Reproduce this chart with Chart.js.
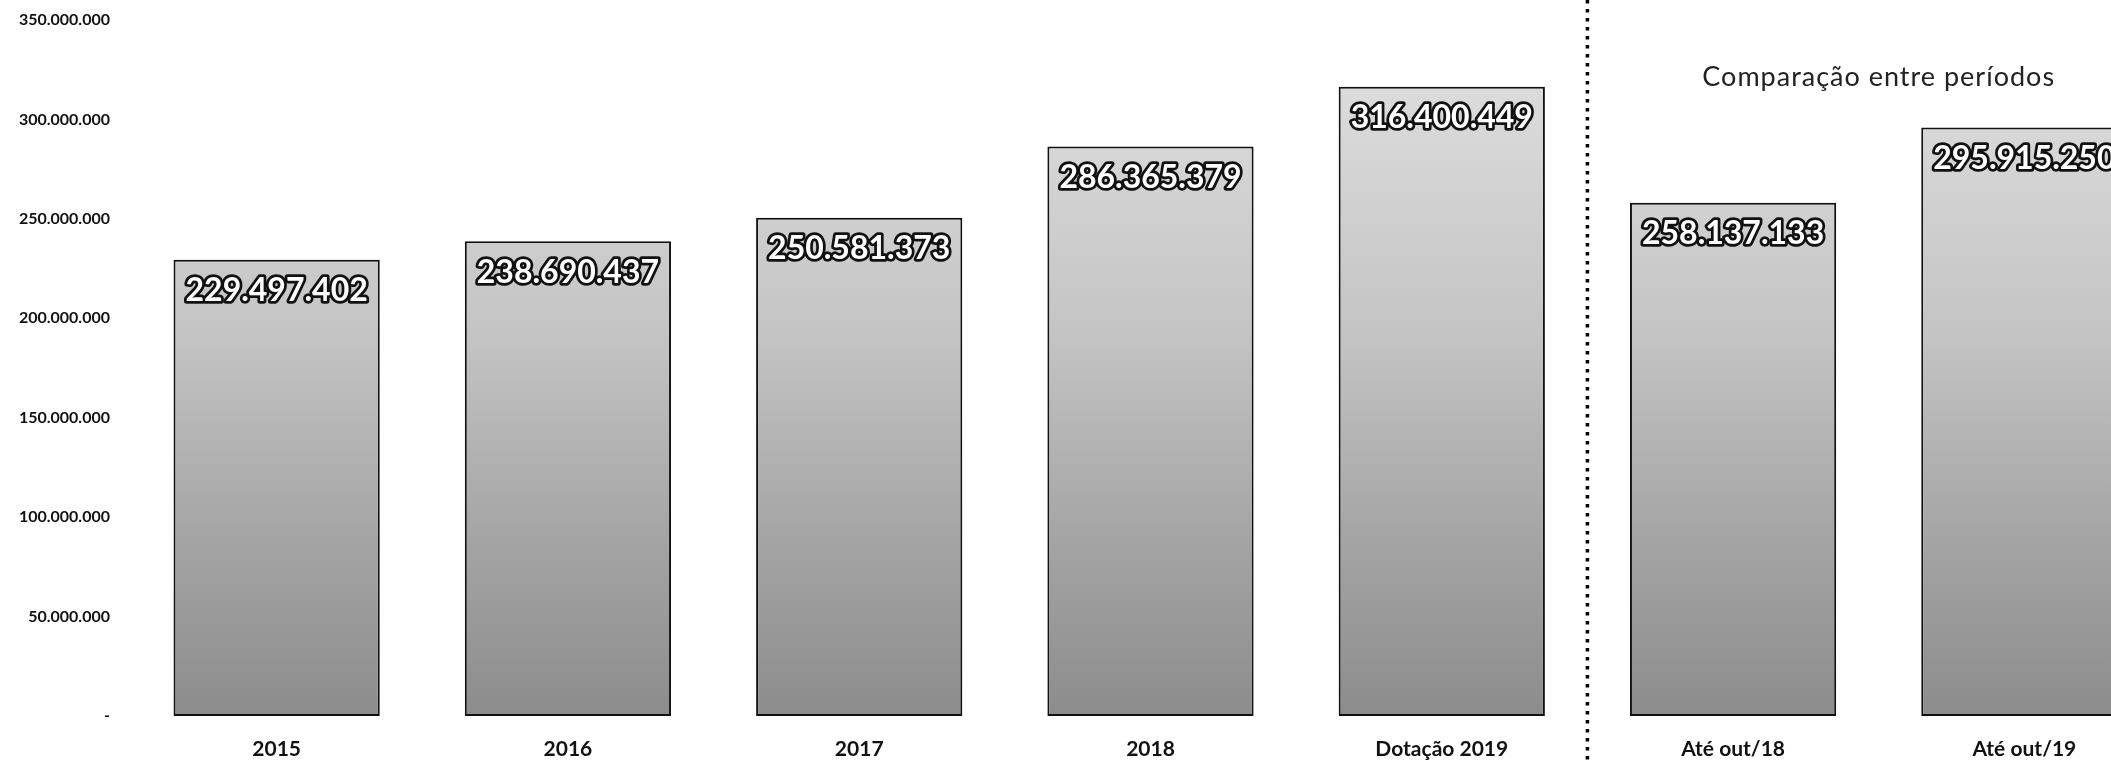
<!DOCTYPE html>
<html>
<head>
<meta charset="utf-8">
<script src="https://cdn.jsdelivr.net/npm/chart.js@4/dist/chart.umd.min.js"></script>
<style>
    html,body { margin:0; padding:0; background:#fff; overflow:hidden; }
    #wrap { width:2170px; height:760px; position:relative; }
</style>
</head>
<body>
<div id="wrap"><canvas id="chart"></canvas></div>
<script>
let
    categories=["2015","2016","2017","2018","Dotação 2019","Até out/18","Até out/19"],
    values=[229497402,238690437,250581373,286365379,316400449,258137133,295915250],
    yTicks=[0,50000000,100000000,150000000,200000000,250000000,300000000,350000000],
    comparisonTitle="Comparação entre períodos",
    splitAfter=4;

function formatNumber(n) {
    return n.toString().replace(/\B(?=(\d{3})+(?!\d))/g,".");
};

function barFill(ctx) {
    let area=ctx.chart.chartArea;
    if (!area) return "#b0b0b0";
    let g=ctx.chart.ctx.createLinearGradient(0,area.top,0,area.bottom);
    g.addColorStop(0,"#e2e2e2");
    g.addColorStop(0.45,"#c4c4c4");
    g.addColorStop(0.75,"#a4a4a4");
    g.addColorStop(1,"#8c8c8c");
    return g;
};

let extrasPlugin={
    id:"extras",
    afterDatasetsDraw(chart) {
        let
            c=chart.ctx,
            x=chart.scales.x,
            meta=chart.getDatasetMeta(0);

        // value labels, white with black outline
        c.save();
        c.font="bold 32px Lato";
        c.textAlign="center";
        c.textBaseline="middle";
        c.lineJoin="round";
        meta.data.forEach((bar,i)=>{
            let t=formatNumber(values[i]);
            c.lineWidth=5.5;
            c.strokeStyle="#111";
            c.strokeText(t,bar.x,bar.y+31);
            c.fillStyle="#fff";
            c.fillText(t,bar.x,bar.y+31);
        });
        c.restore();

        // dotted separator
        let sx=(x.getPixelForValue(splitAfter)+x.getPixelForValue(splitAfter+1))/2;
        c.save();
        c.strokeStyle="#000";
        c.lineWidth=3.5;
        c.setLineDash([3.5,5.5]);
        c.beginPath();
        c.moveTo(sx,0);
        c.lineTo(sx,chart.height);
        c.stroke();
        c.restore();

        // comparison title
        let tx=(x.getPixelForValue(5)+x.getPixelForValue(6))/2;
        c.save();
        c.font="27px Lato";
        c.letterSpacing="1px";
        c.fillStyle="#222";
        c.textAlign="center";
        c.textBaseline="middle";
        c.fillText(comparisonTitle,tx,77);
        c.restore();
    }
};

new Chart(
    document.getElementById("chart"),
    {
        type:"bar",
        data:{
            labels:categories,
            datasets:[{
                data:values,
                backgroundColor:barFill,
                borderColor:"#111",
                borderWidth:2,
                borderSkipped:false,
                categoryPercentage:1,
                barPercentage:0.708
            }]
        },
        options:{
            responsive:true,
            maintainAspectRatio:false,
            animation:false,
            layout:{padding:0},
            plugins:{legend:{display:false},tooltip:{enabled:false}},
            scales:{
                x:{
                    grid:{display:false,drawTicks:false},
                    border:{display:false},
                    ticks:{
                        color:"#111",
                        padding:21,
                        font:{family:"Lato",weight:"bold",size:21}
                    },
                    afterFit(scale) { scale.height=44; }
                },
                y:{
                    min:yTicks[0],
                    max:yTicks[yTicks.length-1],
                    grid:{display:false,drawTicks:false},
                    border:{display:false},
                    afterBuildTicks(scale) { scale.ticks=yTicks.map(v=>({value:v})); },
                    afterFit(scale) {
                        scale.width=131;
                        scale.paddingTop=20;
                    },
                    ticks:{
                        color:"#111",
                        padding:21,
                        font:{family:"Lato",weight:"bold",size:16},
                        callback:v=>v===0 ? "-" : formatNumber(v)
                    }
                }
            }
        },
        plugins:[extrasPlugin]
    }
);
</script>
</body>
</html>
